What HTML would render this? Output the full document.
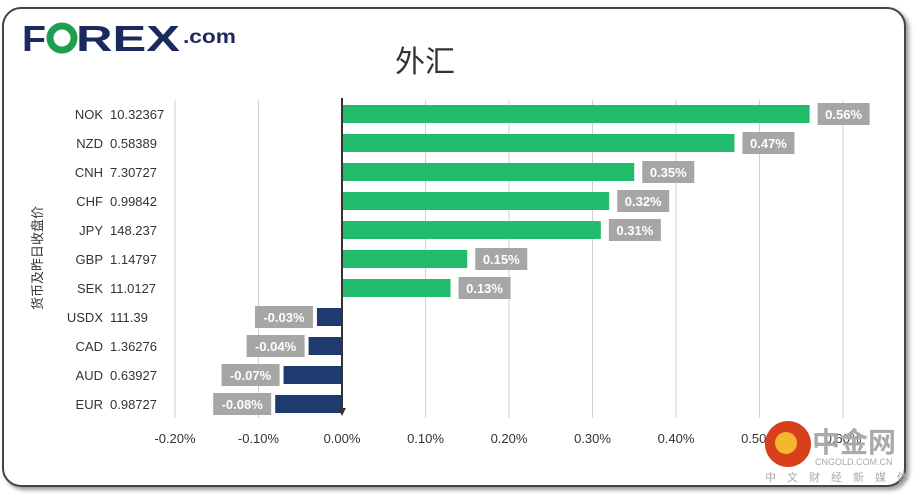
<!DOCTYPE html>
<html><head><meta charset="utf-8"><style>
body{margin:0;background:#fff;width:920px;height:494px;overflow:hidden;font-family:"Liberation Sans","Noto Sans CJK SC",sans-serif}
</style></head><body>
<svg width="920" height="494">
<rect x="3" y="8" width="902" height="478" rx="18" fill="#fff" stroke="#444" stroke-width="2" style="filter:drop-shadow(3px 3px 2px #999)"/>
<g font-weight="bold" fill="#1b2a5e">
<text x="22" y="51" font-size="36" textLength="24" lengthAdjust="spacingAndGlyphs">F</text>
<circle cx="62" cy="38" r="12" fill="none" stroke="#1e9e4f" stroke-width="7"/>
<text x="76" y="51" font-size="36" textLength="104" lengthAdjust="spacingAndGlyphs">REX</text>
<text x="183" y="43" font-size="19" textLength="53" lengthAdjust="spacingAndGlyphs">.com</text>
</g>
<text x="425" y="72" font-size="30" text-anchor="middle" fill="#333">外汇</text>
<text transform="translate(42,258) rotate(-90)" font-size="13" text-anchor="middle" fill="#333">货币及昨日收盘价</text>
<g id="grid"></g><g id="bars"></g><g id="xt"></g>
<g>
<circle cx="788" cy="444" r="23" fill="#d8401c"/>
<circle cx="786" cy="443" r="11" fill="#f6b730"/>
<text x="812" y="452" font-size="28" font-weight="bold" fill="#aaa">中金网</text>
<text x="815" y="465" font-size="9" fill="#aaa">CNGOLD.COM.CN</text>
<text x="765" y="481" font-size="11" fill="#aaa" letter-spacing="11">中文财经新媒体</text>
</g>
</svg>
<script>
const cats=["NOK","NZD","CNH","CHF","JPY","GBP","SEK","USDX","CAD","AUD","EUR"];
const prices=["10.32367","0.58389","7.30727","0.99842","148.237","1.14797","11.0127","111.39","1.36276","0.63927","0.98727"];
const values=[0.56,0.47,0.35,0.32,0.31,0.15,0.13,-0.03,-0.04,-0.07,-0.08];
const ticks=[-0.2,-0.1,0,0.1,0.2,0.3,0.4,0.5,0.6];
const NS="http://www.w3.org/2000/svg";
const x=v=>342+v*835;const y=i=>114+i*29;
function mk(t,a,p){const e=document.createElementNS(NS,t);for(const k in a)e.setAttribute(k,a[k]);p.appendChild(e);return e;}
const G=document.getElementById('grid'),B=document.getElementById('bars'),X=document.getElementById('xt');
ticks.forEach(t=>{if(t!==0){const l=mk('line',{x1:x(t),x2:x(t),y1:100,y2:418,stroke:'#d0d0d0','stroke-width':1},G);

}
const tx=mk('text',{x:x(t),y:443,'font-size':13,'text-anchor':'middle',fill:'#333'},X);tx.textContent=t.toFixed(2)+'%';

});
values.forEach((v,i)=>{const c=y(i);
const r=mk('rect',{x:Math.min(x(0),x(v)),y:c-9,width:Math.abs(x(v)-x(0)),height:18,fill:v>=0?'#21bb6b':'#1f3a6e'},B);


const lt=mk('text',{x:103,y:c+5,'font-size':13,'text-anchor':'end',fill:'#333'},B);lt.textContent=cats[i];


const pt=mk('text',{x:110,y:c+5,'font-size':13,fill:'#333'},B);pt.textContent=prices[i];


const lbl=(v>=0?'':'-')+Math.abs(v).toFixed(2)+'%';const w=v>=0?52:58;
const bx=v>=0?x(v)+8:x(v)-4-w;
const br=mk('rect',{x:bx,y:c-11,width:w,height:22,fill:'#a6a6a6'},B);


const vt=mk('text',{x:bx+w/2,y:c+5,'font-size':13,'font-weight':'bold','text-anchor':'middle',fill:'#fff'},B);vt.textContent=lbl;

});
const ax=mk('line',{x1:x(0),x2:x(0),y1:98,y2:410,stroke:'#333','stroke-width':2},B);


const ar=mk('path',{d:`M${x(0)-4} 408 L${x(0)+4} 408 L${x(0)} 416 Z`,fill:'#333'},B);


</script>
</body></html>
